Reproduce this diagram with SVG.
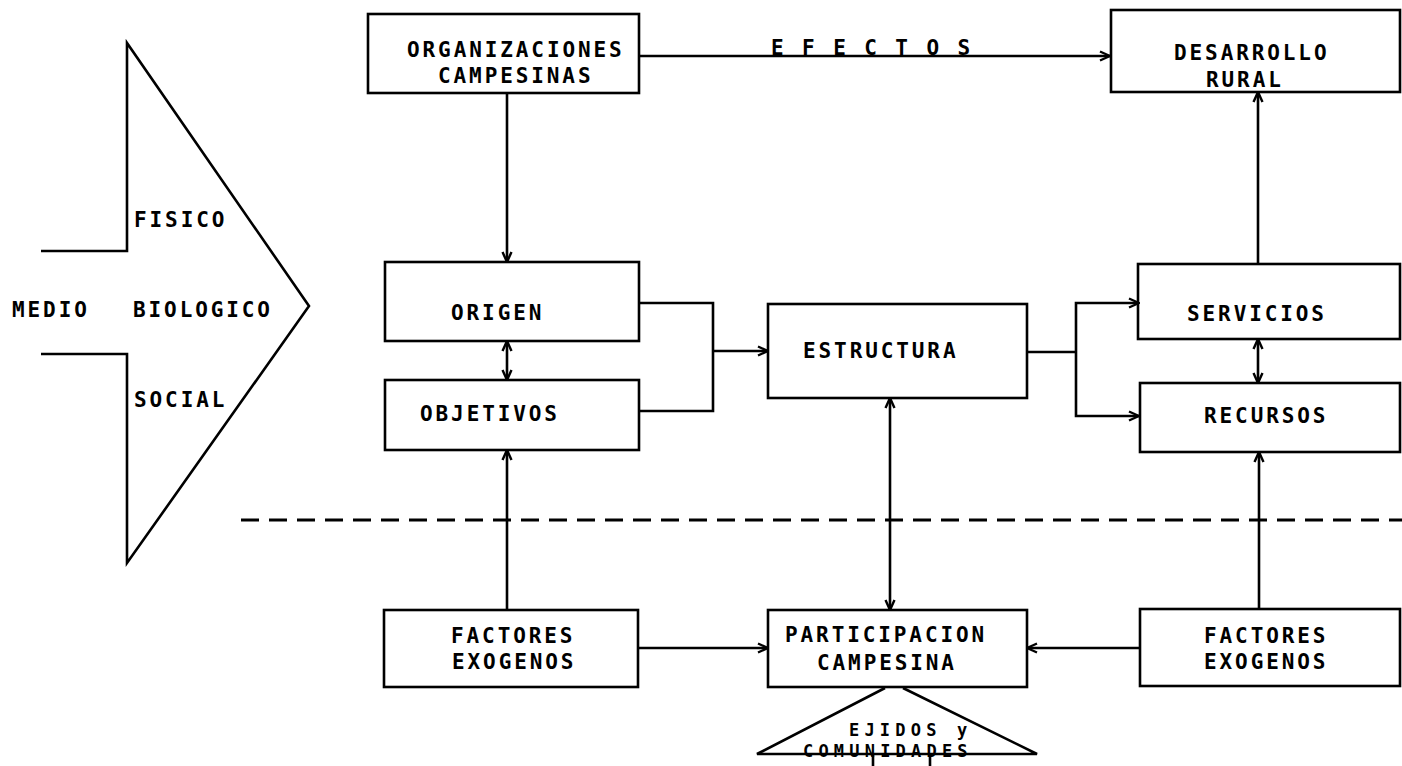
<svg xmlns="http://www.w3.org/2000/svg" width="1402" height="766" viewBox="0 0 1402 766">
<style>
.bg{fill:#fff}
.box{fill:none;stroke:#000;stroke-width:2.6}
.ln{fill:none;stroke:#000;stroke-width:2.6}
.t{font-family:"DejaVu Sans Mono","Liberation Mono",monospace;font-size:21px;font-weight:bold;letter-spacing:2.9px;fill:#000}
.s{font-size:17px;letter-spacing:5.2px}
.dash{fill:none;stroke:#000;stroke-width:3;stroke-dasharray:18 10}
</style>
<defs>
<marker id="ah" viewBox="0 0 12 12" refX="11" refY="6" markerWidth="12" markerHeight="12" markerUnits="userSpaceOnUse" orient="auto-start-reverse">
<path d="M1,1.5 L11,6 L1,10.5" fill="none" stroke="#000" stroke-width="2.4"/>
</marker>
</defs>
<rect class="bg" x="0" y="0" width="1402" height="766"/>

<g id="medio">
<path class="ln" d="M41,251 H127 V43 L309,306 L127,563 V354 H41"/>
<text class="t" x="134" y="227">FISICO</text>
<text class="t" x="12" y="317">MEDIO</text>
<text class="t" x="133" y="317">BIOLOGICO</text>
<text class="t" x="134" y="407">SOCIAL</text>
</g>

<g id="organizaciones">
<rect class="box" x="368" y="14" width="271" height="79"/>
<text class="t" x="407" y="57">ORGANIZACIONES</text>
<text class="t" x="438" y="83">CAMPESINAS</text>
</g>

<g id="desarrollo">
<rect class="box" x="1111" y="10" width="289" height="82"/>
<text class="t" x="1174" y="60">DESARROLLO</text>
<text class="t" x="1206" y="87">RURAL</text>
</g>

<g id="origen">
<rect class="box" x="385" y="262" width="254" height="79"/>
<text class="t" x="451" y="320">ORIGEN</text>
</g>

<g id="objetivos">
<rect class="box" x="385" y="380" width="254" height="70"/>
<text class="t" x="420" y="421">OBJETIVOS</text>
</g>

<g id="estructura">
<rect class="box" x="768" y="304" width="259" height="94"/>
<text class="t" x="803" y="358">ESTRUCTURA</text>
</g>

<g id="servicios">
<rect class="box" x="1138" y="264" width="262" height="75"/>
<text class="t" x="1187" y="321">SERVICIOS</text>
</g>

<g id="recursos">
<rect class="box" x="1140" y="383" width="260" height="69"/>
<text class="t" x="1204" y="423">RECURSOS</text>
</g>

<g id="factores-izq">
<rect class="box" x="384" y="610" width="254" height="77"/>
<text class="t" x="451" y="643">FACTORES</text>
<text class="t" x="452" y="669">EXOGENOS</text>
</g>

<g id="participacion">
<rect class="box" x="768" y="610" width="259" height="77"/>
<text class="t" x="785" y="642">PARTICIPACION</text>
<text class="t" x="817" y="670">CAMPESINA</text>
</g>

<g id="factores-der">
<rect class="box" x="1140" y="609" width="260" height="77"/>
<text class="t" x="1204" y="643">FACTORES</text>
<text class="t" x="1204" y="669">EXOGENOS</text>
</g>

<g id="ejidos">
<path class="ln" d="M885,688 L757,754 H1037 L903,688"/>
<path class="ln" d="M873,754 V766 M930,754 V766"/>
<text class="t s" x="849" y="736">EJIDOS y</text>
<text class="t s" x="803" y="757">COMUNIDADES</text>
</g>

<g id="connectors">
<path class="ln" d="M639,56 H1110" marker-end="url(#ah)"/>
<text class="t" x="771" y="55">E F E C T O S</text>
<path class="ln" d="M507,93 V262" marker-end="url(#ah)"/>
<path class="ln" d="M507,341 V380" marker-start="url(#ah)" marker-end="url(#ah)"/>
<path class="ln" d="M639,303 H713 V411 H639"/>
<path class="ln" d="M713,351 H768" marker-end="url(#ah)"/>
<path class="ln" d="M1027,352 H1076"/>
<path class="ln" d="M1139,303 H1076 V416 H1139" marker-start="url(#ah)" marker-end="url(#ah)"/>
<path class="ln" d="M1258,264 V92" marker-end="url(#ah)"/>
<path class="ln" d="M1258,339 V383" marker-start="url(#ah)" marker-end="url(#ah)"/>
<path class="ln" d="M1259,609 V452" marker-end="url(#ah)"/>
<path class="ln" d="M507,610 V450" marker-end="url(#ah)"/>
<path class="ln" d="M890,398 V610" marker-start="url(#ah)" marker-end="url(#ah)"/>
<path class="ln" d="M638,648 H768" marker-end="url(#ah)"/>
<path class="ln" d="M1140,648 H1027" marker-end="url(#ah)"/>
<path class="dash" d="M241,520 H1402"/>
</g>
</svg>
